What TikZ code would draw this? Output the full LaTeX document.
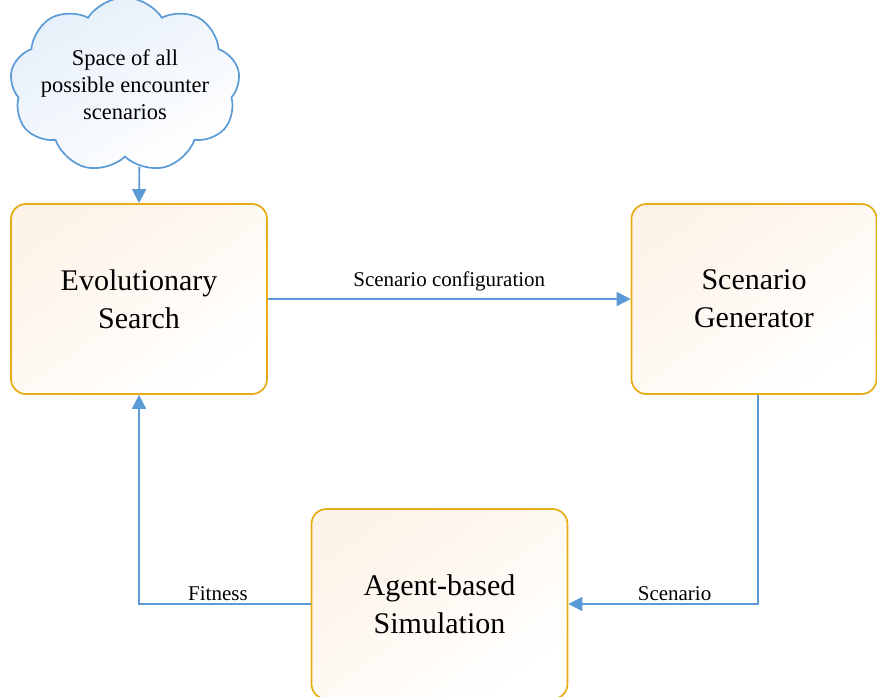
\documentclass[tikz,border=0pt]{standalone}
\usepackage{fontspec}
\setmainfont{Liberation Serif}
\usetikzlibrary{arrows.meta,shapes.symbols}
\definecolor{linkblue}{RGB}{91,155,213}
\definecolor{boxgold}{RGB}{230,172,20}
\definecolor{boxpeach}{RGB}{254,243,232}
\definecolor{cloudblue}{RGB}{230,239,250}
\begin{document}
\begin{tikzpicture}[x=1pt,y=-1pt,>={Triangle[length=14pt,width=14pt]},
  block/.style={draw=boxgold,line width=1.7pt,rounded corners=15pt,minimum width=256pt,minimum height=190pt,
    align=center,font=\fontsize{30}{38}\selectfont,top color=boxpeach,bottom color=white,shading angle=35},
  link/.style={draw=linkblue,line width=1.8pt},
  lbl/.style={font=\fontsize{21}{24}\selectfont,inner sep=2pt}]
  \useasboundingbox (0,0) rectangle (877,696);
  \node[cloud,cloud puffs=9,cloud puff arc=115,aspect=1.5,draw=linkblue,line width=1.7pt,inner sep=-8pt,
    minimum width=230pt,minimum height=152pt,top color=cloudblue,bottom color=white,shading angle=30,
    align=center,font=\fontsize{22.5}{27}\selectfont] (space) at (125,85) {Space of all\\possible encounter\\scenarios};
  \node[block] (search) at (139,299) {Evolutionary\\Search};
  \node[block,minimum width=245pt] (gen) at (754,299) {Scenario\\Generator};
  \node[block] (sim) at (439.5,604) {Agent-based\\Simulation};
  \draw[link,->] (space.-80) -- (search.north);
  \draw[link,->] (search.east) -- node[lbl,above=5pt] {Scenario configuration} (gen.west);
  \draw[link,->] ([xshift=4pt]gen.south) |- node[lbl,above,pos=0.72] {Scenario} (sim.east);
  \draw[link,->] (sim.west) -| node[lbl,above,pos=0.27] {Fitness} (search.south);
\end{tikzpicture}
\end{document}
